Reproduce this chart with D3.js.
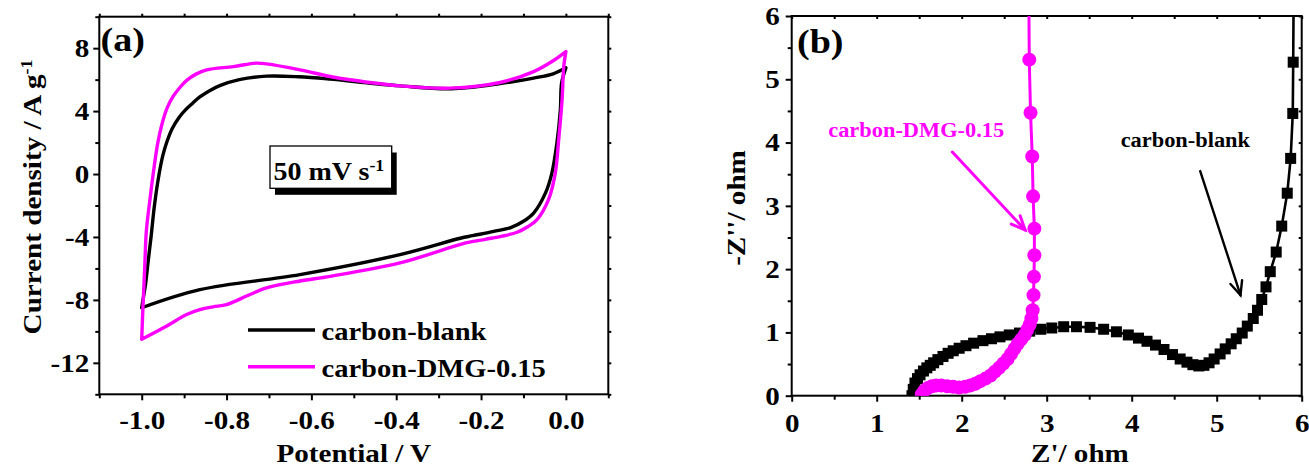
<!DOCTYPE html>
<html>
<head>
<meta charset="utf-8">
<script src="https://cdn.jsdelivr.net/npm/d3@7"></script>
<style>
  html, body { margin: 0; padding: 0; background: #fff; }
  svg text { font-family: "Liberation Serif", "Times New Roman", serif; font-weight: bold; fill: #000; }
  .tick text { font-size: 26px; }
</style>
</head>
<body>
<svg id="fig" width="1309" height="468"></svg>
<script>
// ---------- (a) cyclic voltammetry, 50 mV/s ----------
// one full sweep each: anodic from -1.0 V to 0.0 V, then cathodic back
const cvBlankPotential = [-1.0, -0.997, -0.991, -0.985, -0.978, -0.97, -0.959, -0.95, -0.94, -0.928, -0.912, -0.898, -0.88, -0.863, -0.84, -0.816, -0.77, -0.706, -0.63, -0.556, -0.47, -0.39, -0.27, -0.155, -0.076, -0.03, 0.0,
                          -0.01, -0.013, -0.021, -0.033, -0.048, -0.076, -0.1, -0.13, -0.17, -0.22, -0.249, -0.391, -0.627, -0.863, -1.0];
const cvBlankCurrent   = [-8.5, -8.0, -7.0, -5.6, -4.0, -2.0, 0.0, 1.2, 2.1, 2.9, 3.6, 4.05, 4.5, 4.9, 5.3, 5.62, 6.0, 6.22, 6.18, 6.03, 5.8, 5.6, 5.42, 5.75, 6.1, 6.37, 6.75,
                          5.8, 4.1, 2.0, 0.06, -1.2, -2.48, -3.0, -3.4, -3.65, -3.92, -4.08, -5.12, -6.39, -7.35, -8.5];

const cvDmgPotential = [-1.0, -0.997, -0.993, -0.989, -0.98, -0.973, -0.962, -0.952, -0.94, -0.926, -0.91, -0.894, -0.872, -0.847, -0.784, -0.729, -0.706, -0.627, -0.556, -0.509, -0.391, -0.273, -0.155, -0.076, -0.03, 0.0,
                        -0.005, -0.009, -0.017, -0.025, -0.041, -0.068, -0.09, -0.115, -0.15, -0.19, -0.236, -0.391, -0.556, -0.627, -0.706, -0.745, -0.8, -0.832, -0.863, -0.894, -0.942, -1.0];
const cvDmgCurrent   = [-10.5, -8.4, -6.0, -3.6, -1.5, 0.0, 2.0, 3.2, 4.2, 4.93, 5.5, 5.95, 6.35, 6.62, 6.83, 7.05, 7.0, 6.62, 6.2, 5.99, 5.6, 5.46, 5.82, 6.51, 7.2, 7.78,
                        6.83, 4.72, 2.18, 0.06, -1.63, -2.9, -3.35, -3.7, -3.95, -4.15, -4.38, -5.65, -6.5, -6.8, -7.24, -7.66, -8.3, -8.44, -8.62, -8.93, -9.67, -10.5];

const cvXTicks = [-1.0, -0.8, -0.6, -0.4, -0.2, 0.0];
const cvXTickLabels = ["-1.0", "-0.8", "-0.6", "-0.4", "-0.2", "0.0"];
const cvXMinor = [-1.1, -0.9, -0.7, -0.5, -0.3, -0.1, 0.1];
const cvYTicks = [-12, -8, -4, 0, 4, 8];
const cvYTickLabels = ["-12", "-8", "-4", "0", "4", "8"];
const cvYMinor = [-14, -10, -6, -2, 2, 6, 10];
const cvSeriesNames = ["carbon-blank", "carbon-DMG-0.15"];

// ---------- (b) Nyquist plots ----------
const eisBlankRe = [1.415, 1.43, 1.45, 1.48, 1.51, 1.55, 1.59, 1.63, 1.67, 1.72, 1.78, 1.84, 1.9, 1.97, 2.05, 2.14, 2.25, 2.35, 2.45, 2.56, 2.68, 2.8, 2.93, 3.06, 3.2, 3.35, 3.51, 3.67, 3.82, 3.96, 4.08, 4.18, 4.28, 4.38, 4.48, 4.57, 4.65, 4.72, 4.79, 4.85, 4.91, 4.97, 5.04, 5.1, 5.17, 5.23, 5.3, 5.36, 5.43, 5.48, 5.53, 5.58, 5.63, 5.7, 5.765, 5.83, 5.87, 5.895, 5.9, 5.905];
const eisBlankIm = [0.0, 0.1, 0.2, 0.27, 0.33, 0.39, 0.44, 0.48, 0.52, 0.57, 0.62, 0.67, 0.71, 0.75, 0.79, 0.83, 0.87, 0.9, 0.93, 0.96, 0.99, 1.02, 1.05, 1.07, 1.09, 1.09, 1.08, 1.05, 1.01, 0.96, 0.91, 0.86, 0.8, 0.73, 0.65, 0.58, 0.53, 0.49, 0.47, 0.48, 0.52, 0.58, 0.66, 0.74, 0.82, 0.9, 0.99, 1.1, 1.22, 1.35, 1.52, 1.72, 1.96, 2.27, 2.68, 3.2, 3.75, 4.46, 5.27, 6.3];

const eisDmgRe = [1.53, 1.56, 1.6, 1.65, 1.7, 1.76, 1.83, 1.9, 1.97, 2.04, 2.1, 2.16, 2.22, 2.28, 2.34, 2.39, 2.44, 2.49, 2.54, 2.58, 2.62, 2.66, 2.7, 2.74, 2.77, 2.8, 2.82, 2.835, 2.845, 2.85, 2.855, 2.855, 2.84, 2.83, 2.81, 2.795, 2.79];
const eisDmgIm = [0.02, 0.08, 0.12, 0.15, 0.16, 0.16, 0.15, 0.14, 0.13, 0.14, 0.16, 0.19, 0.23, 0.27, 0.32, 0.38, 0.44, 0.51, 0.58, 0.66, 0.74, 0.82, 0.89, 0.96, 1.04, 1.12, 1.22, 1.35, 1.59, 1.88, 2.22, 2.64, 3.15, 3.78, 4.47, 5.31, 6.3];

const eisTicks = [0, 1, 2, 3, 4, 5, 6];
const eisTickLabels = ["0", "1", "2", "3", "4", "5", "6"];
const eisMinor = [0.5, 1.5, 2.5, 3.5, 4.5, 5.5];

// ---------- drawing ----------
const svg = d3.select("#fig");
const MAGENTA = "#ff00ff";
const STRETCH = 1.12;   // glyphs in this figure are set slightly wide

// widen each text horizontally about its own x anchor
function widen(sel) {
  sel.each(function () {
    const t = d3.select(this);
    const x = +t.attr("x") || 0;
    t.attr("transform", `translate(${x * (1 - STRETCH)},0) scale(${STRETCH},1)`);
  });
}

function styleAxis(g) {
  g.select(".domain").remove();
  g.attr("font-family", null).attr("font-size", null);
  g.selectAll(".tick line").attr("stroke", "#000").attr("stroke-width", 2);
  g.selectAll(".tick text").attr("fill", "#000");
  widen(g.selectAll(".tick text"));
}

function frame(x, y) {
  const [x0, x1] = x.range(), [y0, y1] = y.range();
  return { left: x0, right: x1, bottom: y0, top: y1 };
}

// ===== panel (a) =====
const xA = d3.scaleLinear().domain([-1.1, 0.1]).range([99.3, 608.3]);
const yA = d3.scaleLinear().domain([-14, 10]).range([394.3, 16.7]);
const fA = frame(xA, yA);
const gA = svg.append("g");

gA.append("clipPath").attr("id", "clipA").append("rect")
  .attr("x", fA.left).attr("y", fA.top).attr("width", fA.right - fA.left).attr("height", fA.bottom - fA.top);

// ticks
gA.append("g").attr("transform", `translate(0,${fA.bottom})`)
  .call(d3.axisBottom(xA).tickValues(cvXTicks).tickFormat((d, i) => cvXTickLabels[i]).tickSize(6).tickPadding(10)).call(styleAxis);
gA.append("g").attr("transform", `translate(0,${fA.bottom})`)
  .call(d3.axisBottom(xA).tickValues(cvXMinor).tickFormat("").tickSize(4)).call(styleAxis);
gA.append("g").attr("transform", `translate(${fA.left},0)`)
  .call(d3.axisLeft(yA).tickValues(cvYTicks).tickFormat((d, i) => cvYTickLabels[i]).tickSize(6).tickPadding(4)).call(styleAxis);
gA.append("g").attr("transform", `translate(${fA.left},0)`)
  .call(d3.axisLeft(yA).tickValues(cvYMinor).tickFormat("").tickSize(4)).call(styleAxis);
gA.append("g").attr("transform", `translate(0,${fA.top})`)
  .call(d3.axisTop(xA).tickValues(cvXTicks.concat(cvXMinor)).tickFormat("").tickSize(3)).call(styleAxis);
gA.append("g").attr("transform", `translate(${fA.right},0)`)
  .call(d3.axisRight(yA).tickValues(cvYTicks.concat(cvYMinor)).tickFormat("").tickSize(3)).call(styleAxis);

gA.append("rect").attr("x", fA.left).attr("y", fA.top)
  .attr("width", fA.right - fA.left).attr("height", fA.bottom - fA.top)
  .attr("fill", "none").attr("stroke", "#000").attr("stroke-width", 2);

// CV loops, each drawn as forward and reverse sweeps so the vertices stay sharp
const cvLine = d3.line().x(d => xA(d[0])).y(d => yA(d[1])).curve(d3.curveCatmullRom.alpha(0.5));
function loopPath(vs, is) {
  const pts = vs.map((v, i) => [v, is[i]]);
  const k = d3.maxIndex(vs);
  return cvLine(pts.slice(0, k + 1)) + cvLine(pts.slice(k));
}
const cvSeries = [
  { v: cvBlankPotential, i: cvBlankCurrent, color: "#000" },
  { v: cvDmgPotential, i: cvDmgCurrent, color: MAGENTA }
];
gA.append("g").attr("clip-path", "url(#clipA)")
  .selectAll("path").data(cvSeries).join("path")
  .attr("d", s => loopPath(s.v, s.i))
  .attr("fill", "none").attr("stroke", s => s.color).attr("stroke-width", 3.4)
  .attr("stroke-linecap", "round").attr("stroke-linejoin", "round");

// scan-rate label box with drop shadow
const boxX = 270, boxY = 146, boxW = 121.7, boxH = 42.3;
gA.append("rect").attr("x", boxX + 5).attr("y", boxY + 6.5).attr("width", boxW).attr("height", boxH).attr("fill", "#000");
gA.append("rect").attr("x", boxX).attr("y", boxY).attr("width", boxW).attr("height", boxH)
  .attr("fill", "#fff").attr("stroke", "#000").attr("stroke-width", 1.3);
const rate = gA.append("text").attr("x", 273.5).attr("y", 180).style("font-size", "25px");
rate.append("tspan").text("50 mV s");
rate.append("tspan").attr("dy", "-0.55em").style("font-size", "16px").text("-1");
widen(rate);

// legend
const legY = [330, 366.7];
cvSeries.forEach((s, i) => {
  gA.append("line").attr("x1", 248).attr("x2", 315).attr("y1", legY[i]).attr("y2", legY[i])
    .attr("stroke", s.color).attr("stroke-width", 3.6);
  const t = gA.append("text").attr("x", 321.5).attr("y", legY[i] + 10).style("font-size", "25.5px").text(cvSeriesNames[i]);
  widen(t);
});

// panel label and axis titles
widen(gA.append("text").attr("x", 100.5).attr("y", 51).style("font-size", "34px").text("(a)"));
widen(gA.append("text").attr("x", (fA.left + fA.right) / 2).attr("y", 462).attr("text-anchor", "middle")
  .style("font-size", "26px").text("Potential / V"));
const yTitleA = gA.append("text").attr("text-anchor", "middle").style("font-size", "26px")
  .attr("transform", `translate(41,197) rotate(-90) scale(${STRETCH},1)`);
yTitleA.append("tspan").text("Current density / A g");
yTitleA.append("tspan").attr("dy", "-0.55em").style("font-size", "16px").text("-1");

// ===== panel (b) =====
const xB = d3.scaleLinear().domain([0, 6]).range([791.7, 1301.7]);
const yB = d3.scaleLinear().domain([0, 6]).range([395.7, 16]);
const fB = frame(xB, yB);
const gB = svg.append("g");

gB.append("clipPath").attr("id", "clipB").append("rect")
  .attr("x", fB.left).attr("y", fB.top).attr("width", fB.right - fB.left).attr("height", fB.bottom - fB.top);

gB.append("g").attr("transform", `translate(0,${fB.bottom})`)
  .call(d3.axisBottom(xB).tickValues(eisTicks).tickFormat((d, i) => eisTickLabels[i]).tickSize(6).tickPadding(12)).call(styleAxis);
gB.append("g").attr("transform", `translate(0,${fB.bottom})`)
  .call(d3.axisBottom(xB).tickValues(eisMinor).tickFormat("").tickSize(4)).call(styleAxis);
gB.append("g").attr("transform", `translate(${fB.left},0)`)
  .call(d3.axisLeft(yB).tickValues(eisTicks).tickFormat((d, i) => eisTickLabels[i]).tickSize(6).tickPadding(6)).call(styleAxis);
gB.append("g").attr("transform", `translate(${fB.left},0)`)
  .call(d3.axisLeft(yB).tickValues(eisMinor).tickFormat("").tickSize(4)).call(styleAxis);
gB.append("g").attr("transform", `translate(0,${fB.top})`)
  .call(d3.axisTop(xB).tickValues(eisTicks.concat(eisMinor)).tickFormat("").tickSize(-3)).call(styleAxis);
gB.append("g").attr("transform", `translate(${fB.right},0)`)
  .call(d3.axisRight(yB).tickValues(eisTicks.concat(eisMinor)).tickFormat("").tickSize(-3)).call(styleAxis);

gB.append("rect").attr("x", fB.left).attr("y", fB.top)
  .attr("width", fB.right - fB.left).attr("height", fB.bottom - fB.top)
  .attr("fill", "none").attr("stroke", "#000").attr("stroke-width", 2);

const eisLine = d3.line().x(d => xB(d[0])).y(d => yB(d[1]));
const blankPts = eisBlankRe.map((r, i) => [r, eisBlankIm[i]]);
const dmgPts = eisDmgRe.map((r, i) => [r, eisDmgIm[i]]);
const plotB = gB.append("g").attr("clip-path", "url(#clipB)");

plotB.append("path").attr("d", eisLine(blankPts)).attr("fill", "none").attr("stroke", "#000").attr("stroke-width", 2.6);
const sq = 11;
plotB.selectAll("rect.sq").data(blankPts).join("rect").attr("class", "sq")
  .attr("x", d => xB(d[0]) - sq / 2).attr("y", d => yB(d[1]) - sq / 2)
  .attr("width", sq).attr("height", sq).attr("fill", "#000");

plotB.append("path").attr("d", eisLine(dmgPts)).attr("fill", "none").attr("stroke", MAGENTA).attr("stroke-width", 3);
plotB.selectAll("circle.dot").data(dmgPts).join("circle").attr("class", "dot")
  .attr("cx", d => xB(d[0])).attr("cy", d => yB(d[1])).attr("r", 7).attr("fill", MAGENTA);

// callout arrows
function arrow(from, to, color, width) {
  const x1 = xB(from[0]), y1 = yB(from[1]), x2 = xB(to[0]), y2 = yB(to[1]);
  const a = Math.atan2(y2 - y1, x2 - x1), L = 15, h = 0.42;
  const g = gB.append("g").attr("stroke", color).attr("stroke-width", width).attr("fill", "none")
    .attr("stroke-linecap", "round");
  g.append("line").attr("x1", x1).attr("y1", y1).attr("x2", x2).attr("y2", y2);
  g.append("polyline").attr("points", [
    [x2 - L * Math.cos(a - h), y2 - L * Math.sin(a - h)], [x2, y2],
    [x2 - L * Math.cos(a + h), y2 - L * Math.sin(a + h)]].map(p => p.join(",")).join(" "));
}
arrow([1.89, 3.85], [2.745, 2.62], MAGENTA, 3);
arrow([4.806, 3.55], [5.28, 1.59], "#000", 2.4);

widen(gB.append("text").attr("x", xB(0.43)).attr("y", yB(4.09)).style("font-size", "20px")
  .style("fill", MAGENTA).text(cvSeriesNames[1]));
widen(gB.append("text").attr("x", xB(3.87)).attr("y", yB(3.93)).style("font-size", "20px").text(cvSeriesNames[0]));

widen(gB.append("text").attr("x", 797).attr("y", 53).style("font-size", "34px").text("(b)"));
widen(gB.append("text").attr("x", 1031).attr("y", 462).style("font-size", "26px").text("Z'/ ohm"));
gB.append("text").attr("text-anchor", "middle").style("font-size", "26px")
  .attr("transform", `translate(745,208) rotate(-90) scale(${STRETCH},1)`).text("-Z''/ ohm");
</script>
</body>
</html>
